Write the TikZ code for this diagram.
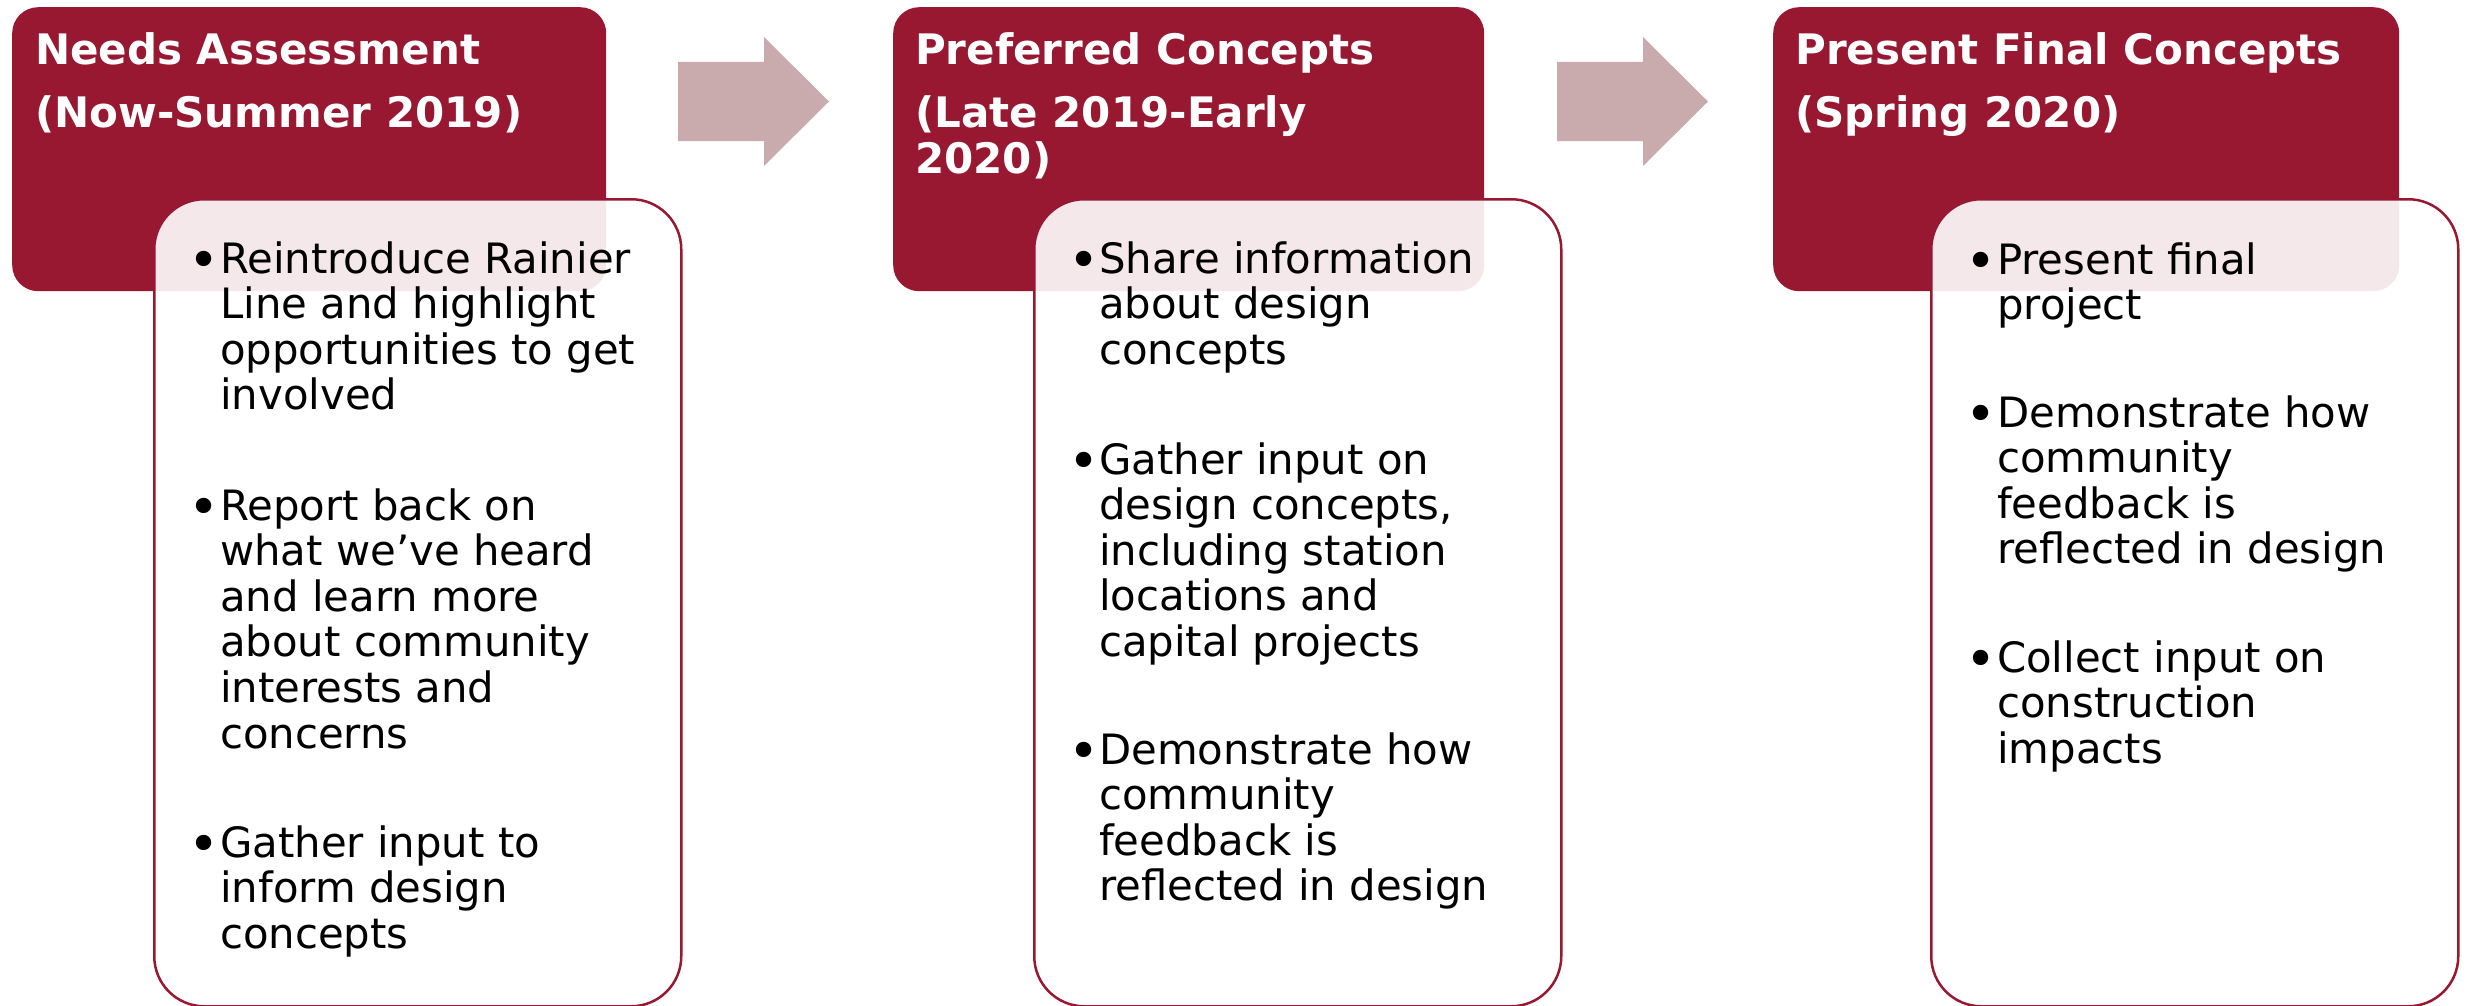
\documentclass[tikz,border=0pt]{standalone}
\usepackage{fontspec}
\setmainfont{DejaVu Sans}
\definecolor{darkred}{RGB}{151,24,48}
\definecolor{arrowpink}{RGB}{201,171,173}
\tikzset{
  headbox/.style={fill=darkred, rounded corners=26pt, inner sep=0pt, anchor=north west, minimum height=284pt},
  bodybox/.style={draw=darkred, line width=2.5pt, fill=white, fill opacity=0.9, rounded corners=50pt, inner sep=0pt, anchor=north west, minimum width=527pt, minimum height=807pt},
  headtext/.style={anchor=base west, inner sep=0pt, text=white, font=\fontsize{42}{45}\selectfont\bfseries},
  bodytext/.style={anchor=base west, inner sep=0pt, font=\fontsize{41.8}{45.6}\selectfont},
  flowarrow/.style={fill=arrowpink},
}
\newcommand{\lns}[1]{\begin{tabular}[t]{@{}l@{}}#1\end{tabular}}
\newcommand{\bigbullet}{\raisebox{-5pt}{\scalebox{1.26}{•}}}
\begin{document}
\begin{tikzpicture}[x=1pt,y=-1pt]
\useasboundingbox (0,0) rectangle (2467,1006);
% header boxes
\node[headbox, minimum width=594pt] (h1) at (12,7) {};
\node[headbox, minimum width=591pt] (h2) at (893,7) {};
\node[headbox, minimum width=626pt] (h3) at (1773,7) {};
% header texts
\node[headtext] (h1a) at (35,65) {Needs Assessment};
\node[headtext] (h1b) at (35,128) {(Now-Summer 2019)};
\node[headtext] (h2a) at (915,65) {Preferred Concepts};
\node[headtext] (h2b) at (915,128) {(Late 2019-Early};
\node[headtext] (h2c) at (915,173) {2020)};
\node[headtext] (h3a) at (1795,65) {Present Final Concepts};
\node[headtext] (h3b) at (1795,128) {(Spring 2020)};
% arrows
\path[flowarrow] (678,62) -- (764,62) -- (764,37) -- (829,101.5) -- (764,166) -- (764,141) -- (678,141) -- cycle;
\path[flowarrow] (1557,62) -- (1643,62) -- (1643,37) -- (1708,101.5) -- (1643,166) -- (1643,141) -- (1557,141) -- cycle;
% body boxes
\node[bodybox] (b1) at (153,198) {};
\node[bodybox] (b2) at (1033,198) {};
\node[bodybox] (b3) at (1930,198) {};
% box 1 bullets
\node[bodytext] (d11) at (188,273) {\bigbullet};
\node[bodytext] (t11) at (220,273) {\lns{Reintroduce Rainier\\Line and highlight\\opportunities to get\\involved}};
\node[bodytext] (d12) at (188,520) {\bigbullet};
\node[bodytext] (t12) at (220,520) {\lns{Report back on\\what we’ve heard\\and learn more\\about community\\interests and\\concerns}};
\node[bodytext] (d13) at (188,857) {\bigbullet};
\node[bodytext] (t13) at (220,857) {\lns{Gather input to\\inform design\\concepts}};
% box 2 bullets
\node[bodytext] (d21) at (1068,273) {\bigbullet};
\node[bodytext] (t21) at (1099,273) {\lns{Share information\\about design\\concepts}};
\node[bodytext] (d22) at (1068,474) {\bigbullet};
\node[bodytext] (t22) at (1099,474) {\lns{Gather input on\\design concepts,\\including station\\locations and\\capital projects}};
\node[bodytext] (d23) at (1068,764) {\bigbullet};
\node[bodytext] (t23) at (1099,764) {\lns{Demonstrate how\\community\\feedback is\\reflected in design}};
% box 3 bullets
\node[bodytext] (d31) at (1965,274) {\bigbullet};
\node[bodytext] (t31) at (1997,274) {\lns{Present final\\project}};
\node[bodytext] (d32) at (1965,427) {\bigbullet};
\node[bodytext] (t32) at (1997,427) {\lns{Demonstrate how\\community\\feedback is\\reflected in design}};
\node[bodytext] (d33) at (1965,672) {\bigbullet};
\node[bodytext] (t33) at (1997,672) {\lns{Collect input on\\construction\\impacts}};
\end{tikzpicture}
\end{document}
